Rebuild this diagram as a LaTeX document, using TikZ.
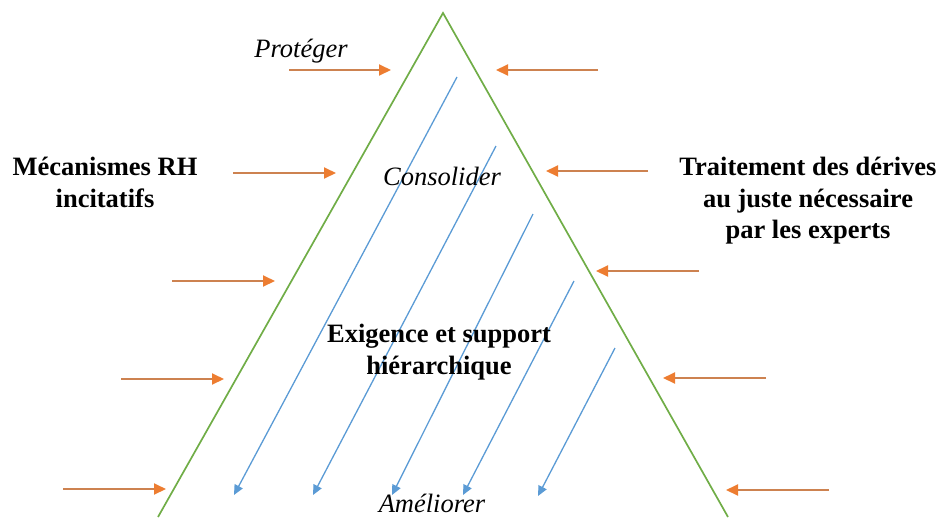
\documentclass[tikz,border=0pt]{standalone}
\usepackage{fontspec}
\setmainfont{Liberation Serif}
\usetikzlibrary{arrows.meta}
\definecolor{tri}{RGB}{112,173,71}
\definecolor{orhead}{RGB}{237,125,49}
\definecolor{orshaft}{RGB}{205,130,80}
\definecolor{bl}{RGB}{91,155,213}
\tikzset{
  trline/.style={draw=tri, line width=1.7pt},
  oarrow/.style={draw=orshaft, line width=2pt, -{Triangle[length=12pt,width=11pt,fill=orhead,color=orhead]}},
  barrow/.style={draw=bl, line width=1.3pt, -{Triangle[length=10pt,width=9pt,fill=bl]}},
  bigtxt/.style={font=\fontsize{26.5}{31.5}\selectfont\bfseries, inner sep=0pt, anchor=base},
  ittxt/.style={font=\fontsize{26.5}{31.5}\selectfont\itshape, inner sep=0pt, anchor=base}
}
\begin{document}
\begin{tikzpicture}[x=1pt,y=-1pt]
\useasboundingbox (0,0) rectangle (945,517);
% triangle
\coordinate (apex) at (443,13);
\coordinate (bl) at (158,517);
\coordinate (br) at (728,517);
\draw[trline] (bl) -- (apex) -- (br);
% left orange arrows
\foreach \i/\xa/\xb/\y in {1/289/391/70, 2/233/336/173, 3/172/275/281, 4/121/224/379, 5/63/166/489}{
  \coordinate (ls\i) at (\xa,\y);
  \coordinate (le\i) at (\xb,\y);
  \draw[oarrow] (ls\i) -- (le\i);
}
% right orange arrows
\foreach \i/\xa/\xb/\y in {1/598/496/70, 2/648/546/171, 3/699/596/271, 4/766/663/378, 5/829/726/490}{
  \coordinate (rs\i) at (\xa,\y);
  \coordinate (re\i) at (\xb,\y);
  \draw[oarrow] (rs\i) -- (re\i);
}
% blue arrows
\foreach \i/\xa/\ya/\xb/\yb in {1/457/77/234/495, 2/496/146/313/495, 3/533/214/392/495, 4/574/281/463/495, 5/615/348/538/496}{
  \coordinate (bs\i) at (\xa,\ya);
  \coordinate (be\i) at (\xb,\yb);
  \draw[barrow] (bs\i) -- (be\i);
}
% texts
\node[ittxt] (prot) at (301,57) {Protéger};
\node[ittxt] (cons) at (442,185) {Consolider};
\node[ittxt] (amel) at (432,512) {Améliorer};
\node[bigtxt] (mec1) at (105,175) {Mécanismes RH};
\node[bigtxt] (mec2) at (105,207) {incitatifs};
\node[bigtxt] (tr1) at (808,175) {Traitement des dérives};
\node[bigtxt] (tr2) at (808,207) {au juste nécessaire};
\node[bigtxt] (tr3) at (808,238) {par les experts};
\node[bigtxt] (ex1) at (439,342) {Exigence et support};
\node[bigtxt] (ex2) at (439,374) {hiérarchique};
\end{tikzpicture}
\end{document}
